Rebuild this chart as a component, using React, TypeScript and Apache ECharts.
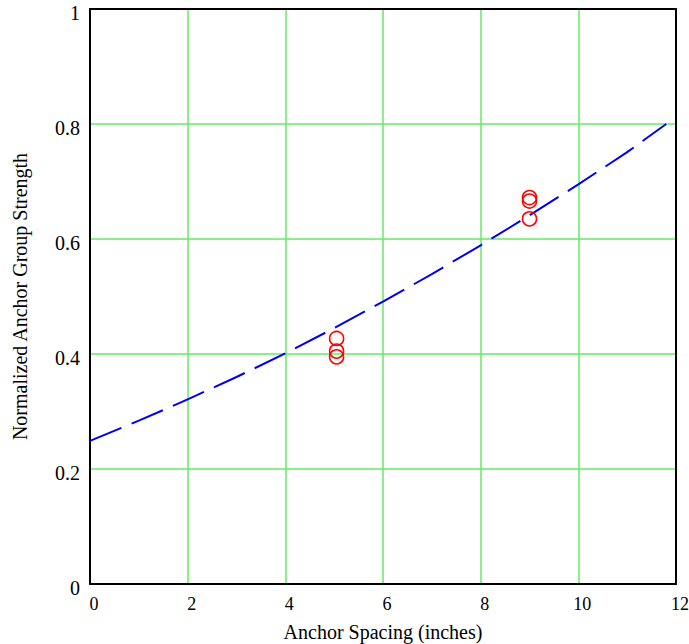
import React, { useEffect, useRef } from "react";
import * as echarts from "echarts";

const xTicks = [0, 2, 4, 6, 8, 10, 12];
const yTicks = [0, 0.2, 0.4, 0.6, 0.8, 1];

const curveX = [0, 1, 2, 3, 4, 5, 6, 7, 8, 9, 10, 11, 11.8];
const curveY = [0.249, 0.284, 0.321, 0.36, 0.401, 0.445, 0.491, 0.539, 0.589, 0.641, 0.695, 0.751, 0.8];

const testX = [5.05, 5.05, 5.05, 9, 9, 9];
const testY = [0.427, 0.405, 0.395, 0.672, 0.666, 0.635];

const xTitle = "Anchor Spacing (inches)";
const yTitle = "Normalized Anchor Group Strength";

const FONT = "Liberation Serif";
const GRID_GREEN = "#66ea66";

export default function App() {
  const ref = useRef<HTMLDivElement>(null);
  useEffect(() => {
    document.body.style.margin = "0";
    const chart = echarts.init(ref.current!, null, { renderer: "svg" });
    const frameLine = { show: true, onZero: false, lineStyle: { color: "#000", width: 2 } };
    chart.setOption({
      animation: false,
      backgroundColor: "#ffffff",
      grid: {
        left: 90,
        right: 13,
        top: 9,
        bottom: 60,
        outerBoundsMode: "none",
        containLabel: false,
      },
      xAxis: [
        {
          type: "value",
          min: 0,
          max: 12,
          interval: 2,
          name: xTitle,
          nameLocation: "middle",
          nameGap: 38,
          nameTextStyle: { fontFamily: FONT, fontSize: 20, color: "#000" },
          axisLine: frameLine,
          axisTick: { show: false },
          axisLabel: {
            fontFamily: FONT,
            fontSize: 18,
            color: "#000",
            margin: 11,
            padding: [0, 0, 0, 8],
            formatter: (v: number) => (xTicks.includes(v) ? String(v) : ""),
          },
          splitLine: { show: true, lineStyle: { color: GRID_GREEN, width: 1.5 } },
        },
        {
          type: "value",
          position: "top",
          min: 0,
          max: 12,
          interval: 2,
          axisLine: frameLine,
          axisTick: { show: false },
          axisLabel: { show: false },
          splitLine: { show: false },
        },
      ],
      yAxis: [
        {
          type: "value",
          min: 0,
          max: 1,
          interval: 0.2,
          name: yTitle,
          nameLocation: "middle",
          nameGap: 60,
          nameRotate: 90,
          nameTextStyle: { fontFamily: FONT, fontSize: 20, color: "#000" },
          axisLine: frameLine,
          axisTick: { show: false },
          axisLabel: {
            fontFamily: FONT,
            fontSize: 20,
            color: "#000",
            margin: 10,
            verticalAlign: "top",
            lineHeight: 8,
            formatter: (v: number) => {
              const t = yTicks.find((k) => Math.abs(k - v) < 1e-9);
              return t === undefined ? "" : String(Math.round(t * 10) / 10);
            },
          },
          splitLine: { show: true, lineStyle: { color: GRID_GREEN, width: 1.5 } },
        },
        {
          type: "value",
          position: "right",
          min: 0,
          max: 1,
          interval: 0.2,
          axisLine: frameLine,
          axisTick: { show: false },
          axisLabel: { show: false },
          splitLine: { show: false },
        },
      ],
      series: [
        {
          type: "line",
          data: curveX.map((x, i) => [x, curveY[i]]),
          showSymbol: false,
          symbol: "none",
          lineStyle: { color: "#0000ee", width: 2, type: [34, 11] },
          z: 3,
        },
        {
          type: "scatter",
          data: testX.map((x, i) => [x, testY[i]]),
          symbol: "circle",
          symbolSize: 14,
          itemStyle: { color: "rgba(0,0,0,0)", borderColor: "#ff0000", borderWidth: 1.6, opacity: 1 },
          z: 4,
        },
      ],
    });
    return () => chart.dispose();
  }, []);
  return <div ref={ref} style={{ width: 689, height: 644 }} />;
}
